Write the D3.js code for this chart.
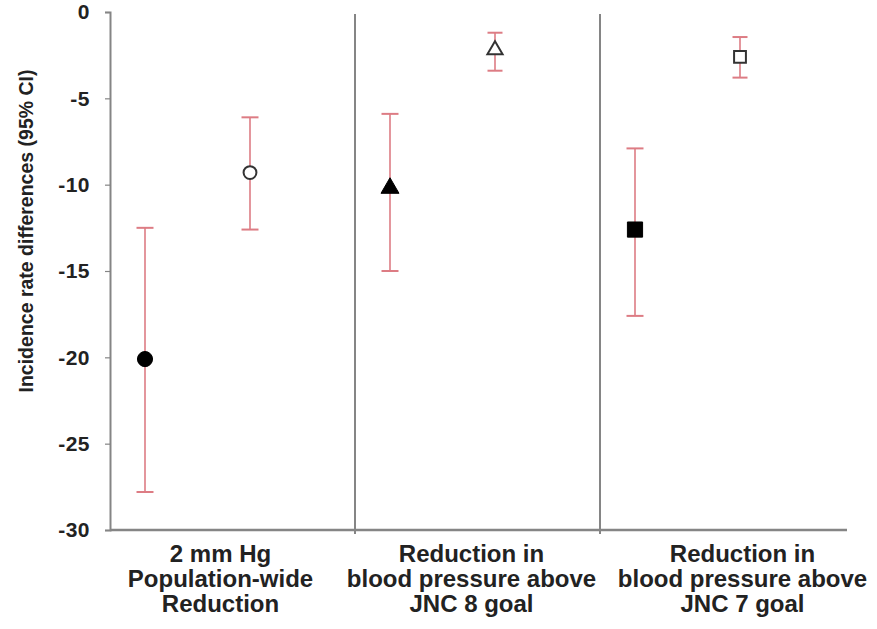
<!DOCTYPE html>
<html><head><meta charset="utf-8">
<script src="https://cdn.jsdelivr.net/npm/d3@7"></script>
<style>body{margin:0;background:#fff}svg{display:block}text{font-family:"Liberation Sans",Arial,sans-serif;font-weight:bold;fill:#222}</style>
</head><body>
<script>
const groups = ["g1","g2","g3"];
const groupLabels = [
  ["2 mm Hg","Population-wide","Reduction"],
  ["Reduction in","blood pressure above","JNC 8 goal"],
  ["Reduction in","blood pressure above","JNC 7 goal"]
];
const kinds = ["filled","open"];
const shapes = ["circle","circle","triangle","triangle","square","square"];
const pointGroup = ["g1","g1","g2","g2","g3","g3"];
const pointKind = ["filled","open","filled","open","filled","open"];
const estimates = [-20.1,-9.3,-10.2,-2.2,-12.6,-2.6];
const lowerCI   = [-27.8,-12.6,-15.0,-3.4,-17.6,-3.8];
const upperCI   = [-12.5,-6.1,-5.9,-1.2,-7.9,-1.45];
const yTicks = [0,-5,-10,-15,-20,-25,-30];
const yTitle = "Incidence rate differences (95% CI)";

(function(){
const W=877,H=629;
const svg=d3.select("body").append("svg").attr("width",W).attr("height",H);
const mL=110,mR=845,mT=12,mB=530;
const x=d3.scaleBand().domain(groups).range([mL,mR]).padding(0);
const xs=d3.scalePoint().domain(kinds).range([35,140]);
const y=d3.scaleLinear().domain([-30,0]).range([mB,mT]);
const axisCol="#858585", errCol="#dd7c84", textCol="#1e1e1e";

// y axis
const ya=svg.append("g").attr("transform",`translate(${mL},0)`)
  .call(d3.axisLeft(y).tickValues(yTicks).tickSize(5).tickPadding(15).tickFormat(d=>String(d)));
ya.select(".domain").attr("stroke",axisCol).attr("stroke-width",2);
ya.selectAll(".tick line").attr("stroke",axisCol).attr("stroke-width",1.2);
ya.selectAll(".tick text").attr("font-size",21).attr("font-family","Liberation Sans, Arial, sans-serif")
  .attr("font-weight","bold").attr("fill",textCol).attr("letter-spacing","0.5");

// x axis line
svg.append("line").attr("x1",mL).attr("x2",mR+2).attr("y1",mB).attr("y2",mB)
  .attr("stroke",axisCol).attr("stroke-width",2.5);
// separators
groups.slice(1).forEach(g=>{
  svg.append("line").attr("x1",x(g)).attr("x2",x(g)).attr("y1",mT+2).attr("y2",mB+4)
    .attr("stroke",axisCol).attr("stroke-width",2);
});

// y title
svg.append("text").attr("transform",`translate(33,231) rotate(-90)`)
  .attr("text-anchor","middle").attr("font-size",19.5).attr("fill",textCol).text(yTitle);

// x labels
const labelShift=[-12,-6,20];
groups.forEach((g,i)=>{
  const t=svg.append("text").attr("text-anchor","middle").attr("font-size",24).attr("fill",textCol);
  groupLabels[i].forEach((ln,j)=>{
    t.append("tspan").attr("x",x(g)+x.bandwidth()/2+labelShift[i]).attr("y",562+j*25).text(ln);
  });
});

// error bars & points
const data=estimates.map((v,i)=>({v,lo:lowerCI[i],hi:upperCI[i],g:pointGroup[i],k:pointKind[i],s:shapes[i]}));
const px=d=>x(d.g)+xs(d.k);
const capW=d=>(d.hi-d.lo)<4?15:17;
const eg=svg.append("g");
data.forEach(d=>{
  const cx=px(d), w=capW(d)/2;
  eg.append("line").attr("x1",cx).attr("x2",cx).attr("y1",y(d.hi)).attr("y2",y(d.lo)).attr("stroke",errCol).attr("stroke-width",1.6);
  eg.append("line").attr("x1",cx-w).attr("x2",cx+w).attr("y1",y(d.hi)).attr("y2",y(d.hi)).attr("stroke",errCol).attr("stroke-width",2);
  eg.append("line").attr("x1",cx-w).attr("x2",cx+w).attr("y1",y(d.lo)).attr("y2",y(d.lo)).attr("stroke",errCol).attr("stroke-width",2);
});
const symType={circle:d3.symbolCircle,triangle:d3.symbolTriangle,square:d3.symbolSquare};
const symSize={circle:180,triangle:140,square:230};
const symSizeOpen={circle:130,triangle:100,square:140};
data.forEach(d=>{
  const open=d.k==="open";
  svg.append("path").attr("d",d3.symbol().type(symType[d.s]).size(open?symSizeOpen[d.s]:symSize[d.s])())
    .attr("transform",`translate(${px(d)},${y(d.v)})`)
    .attr("fill",open?"#fff":"#000").attr("stroke",open?"#333":"#000").attr("stroke-width",open?2:1);
});
})();
</script>
</body></html>
